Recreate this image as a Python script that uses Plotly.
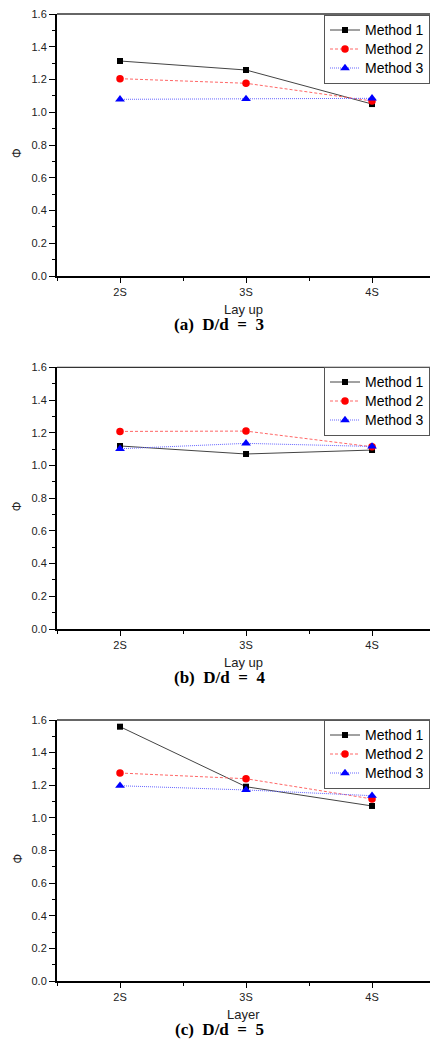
import plotly.graph_objects as go

# ---- data ----
categories = ["2S", "3S", "4S"]
method_names = ["Method 1", "Method 2", "Method 3"]
panel_captions = ["(a)\u00a0\u00a0D/d\u00a0\u00a0=\u00a0\u00a03",
                  "(b)\u00a0\u00a0D/d\u00a0\u00a0=\u00a0\u00a04",
                  "(c)\u00a0\u00a0D/d\u00a0\u00a0=\u00a0\u00a05"]
x_titles = ["Lay up", "Lay up", "Layer"]

a_method1 = [1.313, 1.258, 1.050]
a_method2 = [1.205, 1.177, 1.069]
a_method3 = [1.079, 1.081, 1.085]

b_method1 = [1.119, 1.070, 1.094]
b_method2 = [1.208, 1.210, 1.114]
b_method3 = [1.102, 1.135, 1.116]

c_method1 = [1.559, 1.191, 1.073]
c_method2 = [1.275, 1.240, 1.116]
c_method3 = [1.197, 1.171, 1.136]

panels = [
    [a_method1, a_method2, a_method3],
    [b_method1, b_method2, b_method3],
    [c_method1, c_method2, c_method3],
]

# ---- layout geometry (pixels) ----
W, H = 430, 1052
left_px = 57
plot_tops = [14, 367.3, 720]
plot_bottoms = [276, 629, 981]
legend_tops = [14.5, 366.5, 719.5]

styles = [
    dict(line=dict(color="#444444", width=1, dash="solid"),
         marker=dict(symbol="square", size=6, color="black")),
    dict(line=dict(color="#ff6666", width=1, dash="3px,2px"),
         marker=dict(symbol="circle", size=7.5, color="red")),
    dict(line=dict(color="#6666ff", width=1, dash="1px,1px"),
         marker=dict(symbol="triangle-up", size=8.5, color="blue")),
]

xpos = [1, 2, 3]
fig = go.Figure()
annotations = []
shapes = []
font_family = "Liberation Sans"

for p in range(3):
    ax = "" if p == 0 else str(p + 1)
    legend_name = "legend" if p == 0 else f"legend{p+1}"
    for s in range(3):
        fig.add_trace(go.Scatter(
            x=xpos, y=panels[p][s],
            name='<span style="font-size:14px">' + method_names[s] + "</span>",
            mode="lines+markers", xaxis="x" + ax, yaxis="y" + ax,
            legend=legend_name, **styles[s]))
    top = 1 - plot_tops[p] / H
    bot = 1 - plot_bottoms[p] / H
    fig.layout["xaxis" + ax] = dict(
        domain=[left_px / W, 1], range=[0.5, 3.46], anchor="y" + ax,
        automargin=False,
        tickmode="array", tickvals=xpos, ticktext=categories,
        ticks="outside", ticklen=5, tickwidth=1, tickcolor="black",
        showline=True, linecolor="black", linewidth=2,
        showgrid=False, zeroline=False,
        tickfont=dict(family=font_family, size=11, color="#222"),
        minor=dict(tickmode="array", tickvals=[0.5, 1.5, 2.5, 3.5],
                   ticks="outside", ticklen=3, tickcolor="black", tickwidth=1),
    )
    fig.layout["yaxis" + ax] = dict(
        domain=[bot, top], range=[0, 1.6], anchor="x" + ax,
        automargin=False,
        tickmode="linear", tick0=0, dtick=0.2, tickformat=".1f",
        ticks="outside", ticklen=6, tickwidth=1, tickcolor="black",
        showline=True, linecolor="black", linewidth=2,
        showgrid=False, zeroline=False,
        tickfont=dict(family=font_family, size=11, color="#222"),
        minor=dict(tickmode="linear", dtick=0.1, ticks="outside",
                   ticklen=3, tickcolor="black", tickwidth=1),
    )
    fig.layout[legend_name] = dict(
        xref="container", yref="container",
        x=1, xanchor="right", y=1 - legend_tops[p] / H, yanchor="top",
        bgcolor="white", bordercolor="#555", borderwidth=1,
        font=dict(family=font_family, size=12, color="black"),
        tracegroupgap=0, itemwidth=30,
    )
    # top border
    shapes.append(dict(type="line", xref="x" + ax + " domain", yref="y" + ax + " domain",
                       x0=0, x1=1, y0=1, y1=1, line=dict(color="#333", width=1.3)))
    # y-axis symbol
    mid = (plot_tops[p] + plot_bottoms[p]) / 2 + 8
    annotations.append(dict(text="\u03a6", x=17 / W, y=1 - mid / H, xref="paper", yref="paper",
                            showarrow=False, textangle=-90, xanchor="center", yanchor="middle",
                            font=dict(family=font_family, size=12, color="#222")))
    # x title
    annotations.append(dict(text=x_titles[p], x=(left_px + W) / 2 / W,
                            y=1 - (plot_bottoms[p] + 33) / H, xref="paper", yref="paper",
                            showarrow=False, xanchor="center", yanchor="middle",
                            font=dict(family=font_family, size=13, color="#222")))
    # caption
    annotations.append(dict(text="<b>" + panel_captions[p] + "</b>", x=219 / W,
                            y=1 - (plot_bottoms[p] + 48.5) / H, xref="paper", yref="paper",
                            showarrow=False, xanchor="center", yanchor="middle",
                            font=dict(family="Liberation Serif", size=17, color="black")))

fig.update_layout(
    width=W, height=H, margin=dict(l=0, r=0, t=0, b=0, pad=0, autoexpand=False),
    paper_bgcolor="white", plot_bgcolor="white",
    annotations=annotations, shapes=shapes, showlegend=True,
)

fig.write_html("out.html", config={"displayModeBar": False},
               post_script="document.body.style.margin='0';document.body.style.overflow='hidden';")
